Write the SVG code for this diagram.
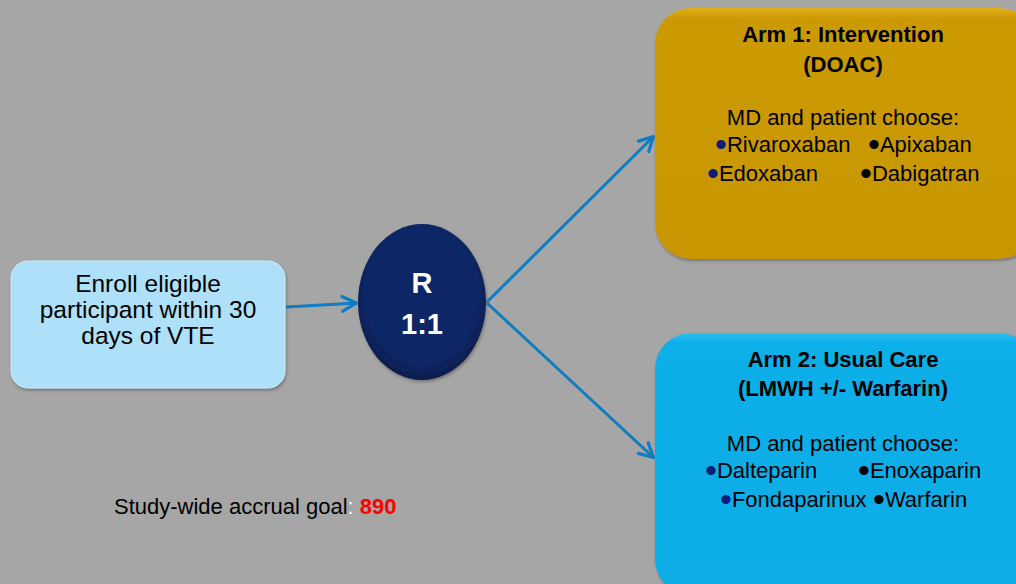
<svg xmlns="http://www.w3.org/2000/svg" width="1016" height="584" viewBox="0 0 1016 584">
  <defs>
    <style>
      text { font-family: "Liberation Sans", Arial, sans-serif; }
      .t { font-size: 22px; fill: #000; text-anchor: middle; }
      .tb { font-size: 22px; font-weight: bold; fill: #000; text-anchor: middle; }
      .it { font-size: 22px; fill: #000; }
      .conn { stroke: #0f7dc2; stroke-width: 3; fill: none; marker-end: url(#arr); }
      .bn { fill: #0b1f7a; font-size: 34px; }
      .bk { fill: #000; font-size: 34px; }
    </style>
    <marker id="arr" viewBox="0 0 12 12" refX="11" refY="6" markerWidth="6.5" markerHeight="6.5" orient="auto" markerUnits="strokeWidth">
      <path d="M2,1.5 L10.5,6 L2,10.5" fill="none" stroke="#0f7dc2" stroke-width="2" stroke-linecap="round" stroke-linejoin="round"/>
    </marker>
    <filter id="sh" x="-10%" y="-10%" width="120%" height="125%">
      <feDropShadow dx="1" dy="2" stdDeviation="1.5" flood-color="#555" flood-opacity="0.6"/>
    </filter>
    <radialGradient id="ellG" cx="50%" cy="45%" r="55%">
      <stop offset="0.8" stop-color="#0c2766"/>
      <stop offset="1" stop-color="#081c4c"/>
    </radialGradient>
    <linearGradient id="goldG" x1="0" y1="0" x2="0" y2="1">
      <stop offset="0" stop-color="#e2b01a"/>
      <stop offset="0.04" stop-color="#cc9a06"/>
      <stop offset="1" stop-color="#c89604"/>
    </linearGradient>
    <linearGradient id="blueG" x1="0" y1="0" x2="0" y2="1">
      <stop offset="0" stop-color="#2cc0f2"/>
      <stop offset="0.04" stop-color="#0aafe8"/>
      <stop offset="1" stop-color="#08ace6"/>
    </linearGradient>
  </defs>
  <rect x="0" y="0" width="1016" height="584" fill="#a6a6a6"/>

  <g id="connectors">
    <line class="conn" x1="286" y1="307" x2="357" y2="303"/>
    <line class="conn" x1="487" y1="302" x2="654" y2="136"/>
    <line class="conn" x1="487" y1="303" x2="654" y2="458"/>
  </g>

  <g id="enroll">
    <rect x="11" y="261" width="274" height="127" rx="17" fill="#aee1f9" stroke="#c8ecfc" stroke-width="1" filter="url(#sh)"/>
    <text class="t" style="font-size:24.5px" x="148" y="292">Enroll eligible</text>
    <text class="t" style="font-size:24.5px" x="148" y="318">participant within 30</text>
    <text class="t" style="font-size:24.5px" x="148" y="344">days of VTE</text>
  </g>

  <g id="randomize">
    <ellipse cx="422" cy="302" rx="64" ry="78" fill="url(#ellG)" filter="url(#sh)"/>
    <text x="422" y="293" text-anchor="middle" font-size="29" font-weight="bold" fill="#fff">R</text>
    <text x="422" y="334" text-anchor="middle" font-size="29" font-weight="bold" fill="#fff">1:1</text>
  </g>

  <g id="arm1">
    <rect x="655" y="8" width="380" height="251" rx="36" fill="url(#goldG)" filter="url(#sh)"/>
    <text class="tb" x="843" y="42">Arm 1: Intervention</text>
    <text class="tb" x="843" y="72">(DOAC)</text>
    <text class="t" x="843" y="125">MD and patient choose:</text>
    <text class="it" x="715" y="152"><tspan class="bn" baseline-shift="-4">•</tspan>Rivaroxaban</text>
    <text class="it" x="868" y="152"><tspan class="bk" baseline-shift="-4">•</tspan>Apixaban</text>
    <text class="it" x="707" y="181"><tspan class="bn" baseline-shift="-4">•</tspan>Edoxaban</text>
    <text class="it" x="860" y="181"><tspan class="bk" baseline-shift="-4">•</tspan>Dabigatran</text>
  </g>

  <g id="arm2">
    <rect x="655" y="333" width="380" height="262" rx="36" fill="url(#blueG)" filter="url(#sh)"/>
    <text class="tb" x="843" y="367">Arm 2: Usual Care</text>
    <text class="tb" x="843" y="396">(LMWH +/- Warfarin)</text>
    <text class="t" x="843" y="451">MD and patient choose:</text>
    <text class="it" x="705" y="478"><tspan class="bn" baseline-shift="-4">•</tspan>Dalteparin</text>
    <text class="it" x="858" y="478"><tspan class="bk" baseline-shift="-4">•</tspan>Enoxaparin</text>
    <text class="it" x="720" y="507"><tspan class="bn" baseline-shift="-4">•</tspan>Fondaparinux</text>
    <text class="it" x="873" y="507"><tspan class="bk" baseline-shift="-4">•</tspan>Warfarin</text>
  </g>

  <g id="goal">
    <text x="114" y="514" font-size="22" fill="#000">Study-wide accrual goal<tspan fill="#f2f2f2">: </tspan><tspan fill="#ff0000" font-weight="bold">890</tspan></text>
  </g>
</svg>
